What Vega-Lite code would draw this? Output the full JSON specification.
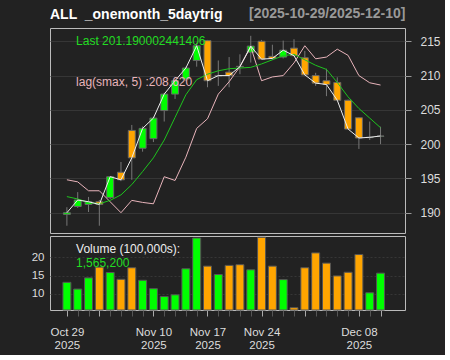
{
  "$schema": "https://vega.github.io/schema/vega-lite/v6.json",
  "background": "#222222",
  "padding": {"left": 30, "top": 5, "right": 4, "bottom": 4},
  "config": {
    "font": "Liberation Sans",
    "view": {"stroke": "#bbbbbb", "strokeWidth": 1, "fill": "#222222"},
    "axis": {"labelFont": "Liberation Sans", "titleFont": "Liberation Sans"}
  },
  "datasets": {
    "ohlc": [
      {"i":0,"date":"2025-10-29","open":189.75,"high":190.8,"low":188.1,"close":190.0,"sma":192.35,"lag":194.8,"vol":13.14},
      {"i":1,"date":"2025-10-30","open":190.9,"high":193.0,"low":190.7,"close":191.85,"sma":192.0,"lag":194.5,"vol":11.3},
      {"i":2,"date":"2025-10-31","open":191.2,"high":192.3,"low":190.1,"close":191.6,"sma":191.5,"lag":193.2,"vol":14.36},
      {"i":3,"date":"2025-11-03","open":191.6,"high":191.85,"low":188.1,"close":191.2,"sma":191.3,"lag":193.2,"vol":17.3},
      {"i":4,"date":"2025-11-04","open":192.2,"high":195.3,"low":192.0,"close":195.25,"sma":191.8,"lag":191.6,"vol":15.83},
      {"i":5,"date":"2025-11-05","open":195.9,"high":197.4,"low":194.6,"close":194.8,"sma":192.6,"lag":190.0,"vol":13.97},
      {"i":6,"date":"2025-11-06","open":202.0,"high":202.8,"low":194.8,"close":198.0,"sma":194.1,"lag":191.8,"vol":17.14},
      {"i":7,"date":"2025-11-07","open":199.4,"high":202.6,"low":198.9,"close":202.3,"sma":196.0,"lag":191.5,"vol":13.7},
      {"i":8,"date":"2025-11-10","open":200.8,"high":204.0,"low":200.3,"close":203.8,"sma":198.0,"lag":191.3,"vol":11.4},
      {"i":9,"date":"2025-11-11","open":204.9,"high":207.5,"low":203.3,"close":207.3,"sma":200.6,"lag":195.25,"vol":9.25},
      {"i":10,"date":"2025-11-12","open":207.3,"high":209.5,"low":206.6,"close":209.25,"sma":203.9,"lag":194.7,"vol":9.72},
      {"i":11,"date":"2025-11-13","open":209.5,"high":211.3,"low":209.2,"close":211.1,"sma":207.2,"lag":198.1,"vol":16.86},
      {"i":12,"date":"2025-11-14","open":212.2,"high":214.8,"low":211.3,"close":214.35,"sma":209.4,"lag":202.3,"vol":25.28},
      {"i":13,"date":"2025-11-17","open":215.1,"high":215.2,"low":208.3,"close":209.25,"sma":210.2,"lag":203.7,"vol":17.58},
      {"i":14,"date":"2025-11-18","open":209.95,"high":212.2,"low":208.5,"close":210.0,"sma":210.7,"lag":207.3,"vol":15.28},
      {"i":15,"date":"2025-11-19","open":210.5,"high":212.7,"low":208.3,"close":210.0,"sma":211.0,"lag":209.1,"vol":17.78},
      {"i":16,"date":"2025-11-20","open":211.35,"high":213.1,"low":210.2,"close":211.3,"sma":211.1,"lag":211.3,"vol":17.97},
      {"i":17,"date":"2025-11-21","open":213.4,"high":215.8,"low":211.9,"close":214.3,"sma":211.2,"lag":214.2,"vol":16.58},
      {"i":18,"date":"2025-11-24","open":215.0,"high":215.2,"low":212.3,"close":212.4,"sma":211.7,"lag":209.25,"vol":25.47},
      {"i":19,"date":"2025-11-25","open":212.8,"high":214.5,"low":212.3,"close":212.5,"sma":212.3,"lag":209.8,"vol":17.58},
      {"i":20,"date":"2025-11-26","open":212.7,"high":215.1,"low":212.5,"close":213.7,"sma":212.9,"lag":210.0,"vol":13.89},
      {"i":21,"date":"2025-11-28","open":214.0,"high":215.3,"low":212.8,"close":212.9,"sma":213.1,"lag":211.85,"vol":6.2},
      {"i":22,"date":"2025-12-01","open":212.6,"high":213.6,"low":210.0,"close":210.1,"sma":212.3,"lag":214.35,"vol":17.14},
      {"i":23,"date":"2025-12-02","open":210.0,"high":210.4,"low":208.5,"close":208.9,"sma":211.5,"lag":212.45,"vol":21.2},
      {"i":24,"date":"2025-12-03","open":209.25,"high":211.0,"low":207.0,"close":208.7,"sma":210.9,"lag":212.7,"vol":18.4},
      {"i":25,"date":"2025-12-04","open":209.0,"high":209.75,"low":206.3,"close":206.4,"sma":209.0,"lag":213.85,"vol":14.9},
      {"i":26,"date":"2025-12-05","open":206.4,"high":206.5,"low":202.2,"close":202.2,"sma":206.9,"lag":212.95,"vol":15.9},
      {"i":27,"date":"2025-12-08","open":203.85,"high":203.9,"low":199.3,"close":200.9,"sma":205.2,"lag":210.0,"vol":20.75},
      {"i":28,"date":"2025-12-09","open":200.95,"high":203.3,"low":200.6,"close":201.0,"sma":203.8,"lag":208.95,"vol":10.28},
      {"i":29,"date":"2025-12-10","open":201.15,"high":202.55,"low":200.0,"close":201.19,"sma":202.4,"lag":208.62,"vol":15.652}
    ],
    "one": [{"k": 1}]
  },
  "vconcat": [
    {
      "width": 355,
      "height": 205,
      "title": {"text": "ALL \u00a0_onemonth_5daytrig", "anchor": "start", "color": "#ffffff", "fontSize": 14, "fontWeight": "bold", "font": "Liberation Sans", "offset": -16},
      "layer": [
        {
          "data": {"name": "ohlc"},
          "mark": {"type": "rule", "color": "#777777", "strokeWidth": 1},
          "encoding": {
            "x": {"field": "i", "type": "quantitative", "scale": {"domain": [-1.1, 30.8], "nice": false, "zero": false},
                  "axis": {"orient": "top", "labels": false, "ticks": false, "domain": false, "grid": false, "title": "[2025-10-29/2025-12-10]", "titleAnchor": "end", "titleColor": "#999999", "titleFontSize": 14, "titleFontWeight": "bold", "titlePadding": 8}},
            "y": {"field": "low", "type": "quantitative", "scale": {"domain": [187.04, 216.94], "nice": false, "zero": false},
                  "axis": {"orient": "right", "values": [190, 195, 200, 205, 210, 215], "tickCount": 20, "title": null, "grid": true, "gridColor": "#363636", "domain": false, "tickColor": "#999999", "tickSize": 6, "labelColor": "#dddddd", "labelFontSize": 12, "labelPadding": 9, "labelOverlap": false}},
            "y2": {"field": "high"}
          }
        },
        {
          "data": {"name": "ohlc"},
          "mark": {"type": "bar", "size": 7, "stroke": "#666666", "strokeWidth": 1},
          "encoding": {
            "x": {"field": "i", "type": "quantitative"},
            "y": {"field": "open", "type": "quantitative"},
            "y2": {"field": "close"},
            "color": {"condition": {"test": "datum.close >= datum.open", "value": "#00ff00"}, "value": "#ffa500"}
          }
        },
        {
          "data": {"name": "ohlc"},
          "mark": {"type": "line", "color": "#e8b4bb", "strokeWidth": 1},
          "encoding": {"x": {"field": "i", "type": "quantitative"}, "y": {"field": "lag", "type": "quantitative"}}
        },
        {
          "data": {"name": "ohlc"},
          "mark": {"type": "line", "color": "#1ec41e", "strokeWidth": 1},
          "encoding": {"x": {"field": "i", "type": "quantitative"}, "y": {"field": "sma", "type": "quantitative"}}
        },
        {
          "data": {"name": "ohlc"},
          "mark": {"type": "line", "color": "#eeeeee", "strokeWidth": 1},
          "encoding": {"x": {"field": "i", "type": "quantitative"}, "y": {"field": "close", "type": "quantitative"}}
        },
        {
          "data": {"name": "one"},
          "mark": {"type": "text", "text": "Last 201.190002441406", "color": "#22dd22", "fontSize": 12, "align": "left", "baseline": "middle"},
          "encoding": {"x": {"datum": 0.85}, "y": {"datum": 215.09}}
        },
        {
          "data": {"name": "one"},
          "mark": {"type": "text", "text": "lag(smax, 5) :208.620", "color": "#e8b4bb", "fontSize": 12, "align": "left", "baseline": "middle"},
          "encoding": {"x": {"datum": 0.85}, "y": {"datum": 209.0}}
        }
      ]
    },
    {
      "width": 355,
      "height": 74,
      "layer": [
        {
          "data": {"name": "ohlc"},
          "mark": {"type": "bar", "size": 8, "stroke": "#555555", "strokeWidth": 1},
          "encoding": {
            "x": {"field": "i", "type": "quantitative", "scale": {"domain": [-1.1, 30.8], "nice": false, "zero": false},
                  "axis": {"orient": "bottom", "values": [0,1,2,3,4,5,6,7,8,9,10,11,12,13,14,15,16,17,18,19,20,21,22,23,24,25,26,27,28,29], "tickCount": 60, "title": null, "grid": false, "domain": false, "tickSize": 6,
                           "tickColor": {"condition": {"test": "indexof([0,3,8,13,18,22,27,29], datum.value) >= 0", "value": "#aaaaaa"}, "value": "#555555"},
                           "labelExpr": "datum.value == 0 ? ['Oct 29','2025'] : datum.value == 8 ? ['Nov 10','2025'] : datum.value == 13 ? ['Nov 17','2025'] : datum.value == 18 ? ['Nov 24','2025'] : datum.value == 27 ? ['Dec 08','2025'] : ''",
                           "labelOverlap": false, "labelFlush": false, "labelColor": "#dddddd", "labelFontSize": 11.5, "labelLineHeight": 13, "labelPadding": 10}},
            "y": {"field": "vol", "type": "quantitative", "scale": {"domain": [5.56, 25.83], "nice": false, "zero": false},
                  "axis": {"orient": "left", "values": [10, 15, 20], "tickCount": 20, "title": null, "grid": true, "gridColor": "#363636", "gridDash": [2, 2], "domain": false, "tickSize": 0, "labelColor": "#dddddd", "labelFontSize": 11.5, "labelPadding": 6, "labelOverlap": false}},
            "y2": {"datum": 5.56},
            "color": {"condition": {"test": "datum.close >= datum.open", "value": "#00ff00"}, "value": "#ffa500"}
          }
        },
        {
          "data": {"name": "one"},
          "mark": {"type": "text", "text": "Volume (100,000s):", "color": "#eeeeee", "fontSize": 12, "align": "left", "baseline": "middle"},
          "encoding": {"x": {"datum": 0.85}, "y": {"datum": 22.2}}
        },
        {
          "data": {"name": "one"},
          "mark": {"type": "text", "text": "1,565,200", "color": "#22dd22", "fontSize": 12, "align": "left", "baseline": "middle"},
          "encoding": {"x": {"datum": 0.85}, "y": {"datum": 18.5}}
        }
      ]
    }
  ],
  "spacing": 1,
  "resolve": {"scale": {"y": "independent"}}
}
